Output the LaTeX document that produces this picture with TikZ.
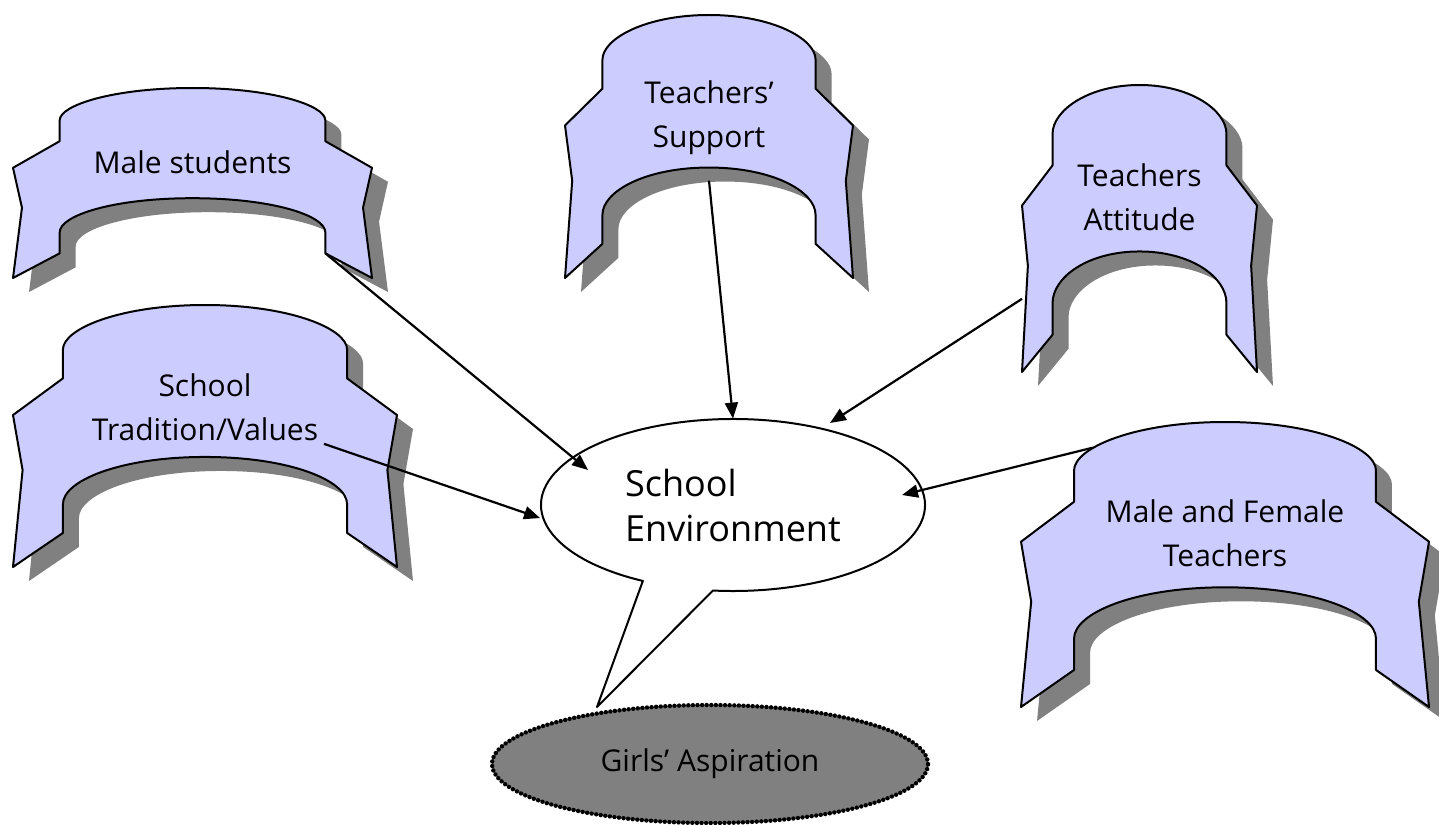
\documentclass[tikz,border=0pt]{standalone}
\usepackage{fontspec}
\setmainfont{Open Sans}
\usetikzlibrary{arrows.meta,shapes.geometric}
\definecolor{ribbonblue}{RGB}{204,204,255}
\definecolor{shadowgray}{RGB}{128,128,128}
\tikzset{
    ribbon-body/.style = {draw=black, fill=ribbonblue, line width=1pt, line join=round},
    ribbon-shadow/.style = {fill=shadowgray},
    ribbon-text/.style = {align=center, font=\fontsize{15}{22}\selectfont},
    bubble/.style = {draw=black, fill=white, line width=1pt, line join=round},
    env-text/.style = {ellipse, minimum width=192pt, minimum height=86pt, align=left, font=\fontsize{18}{22.5}\selectfont},
    girls-oval/.style = {ellipse, fill=shadowgray, draw=black, line width=2.2pt, dash pattern=on 0pt off 2.3pt, line cap=round, minimum width=218pt, minimum height=59pt, font=\fontsize{15}{18}\selectfont},
    link/.style = {draw=black, line width=1.1pt, -{Triangle[length=8pt,width=6.5pt]}},
}
% unit arch ribbon, scaled by the scope
\newcommand{\ribbonpath}{(0,0.42) -- (0.13,0.28) -- (0.13,0.17) .. controls (0.13,0.09) and (0.28,0) .. (0.5,0) .. controls (0.72,0) and (0.87,0.09) .. (0.87,0.17) -- (0.87,0.28) -- (1,0.42) -- (0.975,0.63) -- (1,1) -- (0.87,0.87) -- (0.87,0.76) .. controls (0.87,0.67) and (0.72,0.58) .. (0.5,0.58) .. controls (0.28,0.58) and (0.13,0.67) .. (0.13,0.76) -- (0.13,0.87) -- (0,1) -- (0.025,0.63) -- cycle}
% name, x, y, width, height, text, tail point
\newcommand{\ribbon}[7]{%
  \begin{scope}[shift={(#2+16,#3+14)}, x={(#4,0)}, y={(0,#5)}]
    \fill[ribbon-shadow] \ribbonpath;
  \end{scope}
  \begin{scope}[shift={(#2,#3)}, x={(#4,0)}, y={(0,#5)}]
    \filldraw[ribbon-body] \ribbonpath;
    \node[ribbon-text] (#1) at (0.5,0.39) {#6};
    \coordinate (#1-tail) at (#7);
  \end{scope}}

\begin{document}
\begin{tikzpicture}[x=0.5pt, y=-0.5pt]
\useasboundingbox (0,0) rectangle (1439,824);

% ribbons
\ribbon{male}{13}{88}{359}{190}{Male students}{0.87,0.87}
\ribbon{tradition}{13}{305}{384}{262}{School\\Tradition/Values}{0.81,0.53}
\ribbon{support}{565}{15}{288}{263}{Teachers'\\Support}{0.5,0.63}
\ribbon{attitude}{1022}{85}{235}{287}{Teachers\\Attitude}{0,0.745}
\ribbon{teachers}{1021}{422}{408}{285}{Male and Female\\Teachers}{0.176,0.09}

% speech bubble
\coordinate (tail) at (597,707);
\draw[bubble] (733,505) ++(118:192 and 86) arc[start angle=118, end angle=456, x radius=192, y radius=86] -- (tail) -- cycle;
\node[env-text] (env) at (733,505) {School\\Environment};

\node[girls-oval] (girls) at (710,764) {Girls' Aspiration};

% arrow ends
\coordinate (env-male) at (588,470);
\coordinate (env-tradition) at (540,518);
\coordinate (env-attitude) at (830,423);
\coordinate (env-teachers) at (902,495);

\draw[link] (male-tail) -- (env-male);
\draw[link] (tradition-tail) -- (env-tradition);
\draw[link] (support-tail) -- (env.north);
\draw[link] (attitude-tail) -- (env-attitude);
\draw[link] (teachers-tail) -- (env-teachers);
\end{tikzpicture}
\end{document}
